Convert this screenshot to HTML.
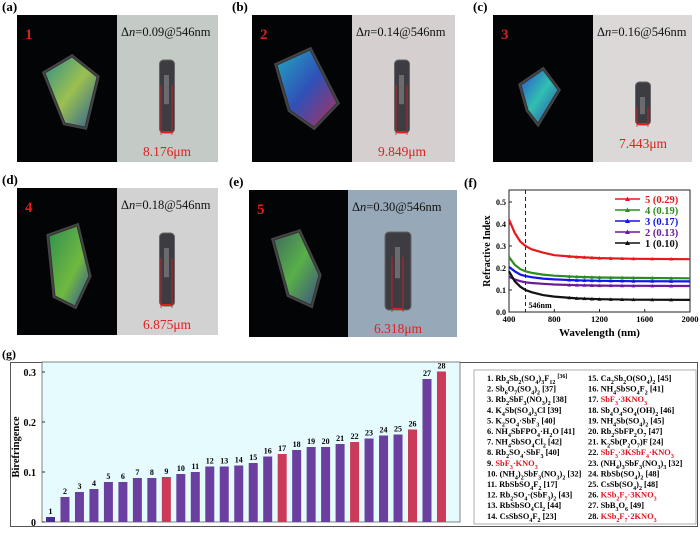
<!DOCTYPE html>
<html><head><meta charset="utf-8"><style>
body{margin:0;background:#fff;}
svg text{font-family:"Liberation Serif",serif;}
</style></head><body>
<svg id="fig" width="700" height="528" viewBox="0 0 700 528" xmlns="http://www.w3.org/2000/svg">
<defs>
<linearGradient id="gA" x1="0" y1="0" x2="1" y2="1"><stop offset="0" stop-color="#2f8f88"/><stop offset="0.5" stop-color="#9cc050"/><stop offset="1" stop-color="#2b5f98"/></linearGradient>
<linearGradient id="gB" x1="0" y1="0" x2="1" y2="1"><stop offset="0" stop-color="#20a8c0"/><stop offset="0.5" stop-color="#3050b8"/><stop offset="1" stop-color="#b0305a"/></linearGradient>
<linearGradient id="gC" x1="0" y1="0" x2="1" y2="1"><stop offset="0" stop-color="#2b50d0"/><stop offset="0.5" stop-color="#30c0b0"/><stop offset="1" stop-color="#3040b0"/></linearGradient>
<linearGradient id="gD" x1="0" y1="0" x2="1" y2="1"><stop offset="0" stop-color="#309050"/><stop offset="0.6" stop-color="#70b840"/><stop offset="1" stop-color="#3050a0"/></linearGradient>
<linearGradient id="gE" x1="0" y1="0" x2="1" y2="1"><stop offset="0" stop-color="#406a60"/><stop offset="0.5" stop-color="#58b048"/><stop offset="1" stop-color="#405080"/></linearGradient>
</defs>
<g id="photos"></g>
<g id="panelF"></g>
<g id="panelG"></g>
</svg>
<script>
const NS="http://www.w3.org/2000/svg";
function mk(tag,attrs,parent,txt){const e=document.createElementNS(NS,tag);for(const k in attrs)e.setAttribute(k,attrs[k]);if(txt!==undefined)e.textContent=txt;parent.appendChild(e);return e;}

/* ---------- photo panels ---------- */
const panelLabels=["(a)","(b)","(c)","(d)","(e)"];
const crystalNums=["1","2","3","4","5"];
const deltaN=["0.09","0.14","0.16","0.18","0.30"];
const widths=["8.176μm","9.849μm","7.443μm","6.875μm","6.318μm"];
const px=[17,252,493,17,249], py=[15,15,15,188,190];
const pw=[201,203,199,201,208], ph=[147,147,147,147,147];
const rightBg=["#c4cbc6","#d5cfd0","#dcd8d8","#d2d2d2","#97a9b9"];
const grads=["gA","gB","gC","gD","gE"];
const blobs=[
 "M28,58 L55,42 L80,62 L68,112 L48,108 Z",
 "M25,50 L58,35 L85,88 L62,112 L38,95 Z",
 "M28,70 L50,55 L65,75 L45,108 L35,95 Z",
 "M32,48 L60,38 L72,88 L58,118 L38,108 Z",
 "M25,50 L50,42 L70,85 L62,115 L40,105 Z"];
const photos=document.getElementById('photos');
for(let i=0;i<5;i++){
  const split=i===4?99:100;
  const g=mk('g',{transform:`translate(${px[i]},${py[i]})`},photos);
  
  
  const lab=mk('text',{x:px[i]<100?-15:-20,y:-4,'font-size':13,'font-weight':'bold'},g,panelLabels[i]);
  
  
  mk('rect',{x:0,y:0,width:split,height:ph[i],fill:'#030405'},g);
  mk('rect',{x:split,y:0,width:pw[i]-split,height:ph[i],fill:rightBg[i]},g);
  mk('path',{d:blobs[i],fill:'#555a60',stroke:'#707070',"stroke-width":5,opacity:0.6},g);
  const b=mk('path',{d:blobs[i],fill:'url(#'+grads[i]+')',stroke:'#333',"stroke-width":1},g);
  
  
  const n=mk('text',{x:8,y:24,'font-size':15,'font-weight':'bold',fill:'#d82020'},g,crystalNums[i]);
  
  
  const dn=mk('text',{x:split+4,y:21,'font-size':12.5,fill:'#111'},g);
  
  
  dn.innerHTML='Δ<tspan font-style="italic">n</tspan>='+deltaN[i]+'@546nm';
  const cx=split+50;
  const top=i===2?67:(i===4?42:45), bot=i===2?110:(i===4?120:118);
  const cw=i===4?26:15;
  const cr=mk('rect',{x:cx-cw/2,y:top,width:cw,height:bot-top,rx:4,fill:'#3c3c42',stroke:'#666'},g);
  
  
  mk('rect',{x:cx-3,y:top+15,width:5,height:(bot-top)*0.4,fill:'#8a8a8a',opacity:0.6},g);
  mk('line',{x1:cx-6,y1:top+25,x2:cx-6,y2:bot+2,stroke:'#e02020','stroke-width':0.8},g);
  mk('line',{x1:cx+5,y1:top+25,x2:cx+5,y2:bot+2,stroke:'#e02020','stroke-width':0.8},g);
  mk('line',{x1:cx-5,y1:bot-1,x2:cx+4,y2:bot-1,stroke:'#e02020','stroke-width':2},g);
  const w=mk('text',{x:cx,y:bot+23,'font-size':13.5,fill:'#e02020','text-anchor':'middle'},g,widths[i]);
  
  
}

/* ---------- panel f: refractive index ---------- */
const wavelengths=[400,450,500,546,600,700,800,1000,1200,1500,2000];
const s5=[0.42,0.36,0.32,0.30,0.285,0.27,0.258,0.25,0.245,0.242,0.24];
const s4=[0.25,0.215,0.195,0.185,0.178,0.17,0.165,0.16,0.157,0.155,0.153];
const s3=[0.205,0.185,0.17,0.163,0.158,0.152,0.148,0.144,0.142,0.14,0.139];
const s2=[0.16,0.148,0.14,0.135,0.132,0.128,0.125,0.122,0.12,0.119,0.118];
const s1=[0.185,0.14,0.115,0.10,0.09,0.077,0.07,0.062,0.058,0.056,0.055];
const fSeries=[s5,s4,s3,s2,s1];
const fLabels=["5 (0.29)","4 (0.19)","3 (0.17)","2 (0.13)","1 (0.10)"];
const fColors=["#e8191c","#2e8b1f","#1414f0","#6a1a9a","#111111"];
const fXTicks=[400,800,1200,1600,2000];
const fYTicks=[0.0,0.1,0.2,0.3,0.4,0.5];
const F=document.getElementById('panelF');
const fx0=509,fx1=690,fy0=312,fyTop=190;
const fX=v=>fx0+(v-400)/1600*(fx1-fx0);
const fY=v=>fy0-v*220;
const fl=mk('text',{x:464,y:187,'font-size':13,'font-weight':'bold'},F,'(f)');


const fr=mk('rect',{x:fx0,y:fyTop,width:fx1-fx0,height:fy0-fyTop,fill:'#fff',stroke:'#222','stroke-width':1},F);


fXTicks.forEach(t=>{mk('line',{x1:fX(t),y1:fy0,x2:fX(t),y2:fy0-3,stroke:'#222'},F);
  const tt=mk('text',{x:fX(t),y:fy0+10,'font-size':8.5,'font-weight':'bold','text-anchor':'middle'},F,t);
  
  });
fYTicks.forEach(t=>{mk('line',{x1:fx0,y1:fY(t),x2:fx0+3,y2:fY(t),stroke:'#222'},F);
  const tt=mk('text',{x:fx0-3,y:fY(t)+3,'font-size':8,'font-weight':'bold','text-anchor':'end'},F,t.toFixed(1));
  
  });
const fxt=mk('text',{x:(fx0+fx1)/2,y:fy0+24,'font-size':11,'font-weight':'bold','text-anchor':'middle'},F,'Wavelength (nm)');


const fyt=mk('text',{x:0,y:0,'font-size':10,'font-weight':'bold','text-anchor':'middle',transform:`translate(490,${(fy0+fyTop)/2}) rotate(-90)`},F,'Refractive Index');


const dash=mk('line',{x1:fX(546),y1:fyTop,x2:fX(546),y2:fy0,stroke:'#222','stroke-dasharray':'4,3'},F);


const dl=mk('text',{x:fX(546)+3,y:fy0-4,'font-size':8,'font-weight':'bold'},F,'546nm');


fSeries.forEach((s,k)=>{
  let d='';
  s.forEach((v,j)=>{d+=(j?'L':'M')+fX(wavelengths[j]).toFixed(1)+','+fY(v).toFixed(1);});
  const p=mk('path',{d:d,fill:'none',stroke:fColors[k],'stroke-width':2.2},F);
  
  
  for(let j=0;j<s.length-1;j++){for(let m=0;m<3;m++){
    const w=wavelengths[j]+(wavelengths[j+1]-wavelengths[j])*m/3, v=s[j]+(s[j+1]-s[j])*m/3;
    if(w<900)continue;
    const X=fX(w),Y=fY(v);
    mk('path',{d:`M${X-2},${Y+1.5}L${X},${Y-2}L${X+2},${Y+1.5}Z`,fill:fColors[k]},F);}}
  const ly=199+k*11;
  mk('line',{x1:615,y1:ly,x2:640,y2:ly,stroke:fColors[k],'stroke-width':1.5},F);
  mk('path',{d:`M625,${ly+2}L627.5,${ly-2.5}L630,${ly+2}Z`,fill:fColors[k]},F);
  const lt=mk('text',{x:645,y:ly+4,'font-size':10.5,'font-weight':'bold',fill:fColors[k]},F,fLabels[k]);
  
  
});

/* ---------- panel g: birefringence bars ---------- */
const gCats=[1,2,3,4,5,6,7,8,9,10,11,12,13,14,15,16,17,18,19,20,21,22,23,24,25,26,27,28];
const gVals=[0.01,0.05,0.06,0.066,0.08,0.08,0.088,0.088,0.09,0.096,0.10,0.111,0.111,0.113,0.118,0.131,0.136,0.144,0.15,0.15,0.156,0.16,0.167,0.173,0.175,0.185,0.286,0.301];
const gRed=[9,17,22,26,28];
const gYTicks=[0,0.1,0.2,0.3];
const gLegend1=["1. Rb<tspan baseline-shift='sub' font-size='6'>4</tspan>Sb<tspan baseline-shift='sub' font-size='6'>2</tspan>(SO<tspan baseline-shift='sub' font-size='6'>4</tspan>)<tspan baseline-shift='sub' font-size='6'>3</tspan>F<tspan baseline-shift='sub' font-size='6'>12</tspan> <tspan baseline-shift='super' font-size='6'>[36]</tspan>","2. Sb<tspan baseline-shift='sub' font-size='6'>6</tspan>O<tspan baseline-shift='sub' font-size='6'>7</tspan>(SO<tspan baseline-shift='sub' font-size='6'>4</tspan>)<tspan baseline-shift='sub' font-size='6'>2</tspan> [37]","3. Rb<tspan baseline-shift='sub' font-size='6'>2</tspan>SbF<tspan baseline-shift='sub' font-size='6'>3</tspan>(NO<tspan baseline-shift='sub' font-size='6'>3</tspan>)<tspan baseline-shift='sub' font-size='6'>2</tspan> [38]","4. K<tspan baseline-shift='sub' font-size='6'>4</tspan>Sb(SO<tspan baseline-shift='sub' font-size='6'>4</tspan>)<tspan baseline-shift='sub' font-size='6'>3</tspan>Cl [39]","5. K<tspan baseline-shift='sub' font-size='6'>2</tspan>SO<tspan baseline-shift='sub' font-size='6'>4</tspan>·SbF<tspan baseline-shift='sub' font-size='6'>3</tspan> [40]","6. NH<tspan baseline-shift='sub' font-size='6'>4</tspan>SbFPO<tspan baseline-shift='sub' font-size='6'>4</tspan>·H<tspan baseline-shift='sub' font-size='6'>2</tspan>O [41]","7. NH<tspan baseline-shift='sub' font-size='6'>4</tspan>SbSO<tspan baseline-shift='sub' font-size='6'>4</tspan>Cl<tspan baseline-shift='sub' font-size='6'>2</tspan> [42]","8. Rb<tspan baseline-shift='sub' font-size='6'>2</tspan>SO<tspan baseline-shift='sub' font-size='6'>4</tspan>·SbF<tspan baseline-shift='sub' font-size='6'>3</tspan> [40]","9. <tspan fill='#e0141e'>SbF<tspan baseline-shift='sub' font-size='6'>3</tspan>·KNO<tspan baseline-shift='sub' font-size='6'>3</tspan></tspan>","10. (NH<tspan baseline-shift='sub' font-size='6'>4</tspan>)<tspan baseline-shift='sub' font-size='6'>2</tspan>SbF<tspan baseline-shift='sub' font-size='6'>3</tspan>(NO<tspan baseline-shift='sub' font-size='6'>3</tspan>)<tspan baseline-shift='sub' font-size='6'>2</tspan> [32]","11. RbSbSO<tspan baseline-shift='sub' font-size='6'>4</tspan>F<tspan baseline-shift='sub' font-size='6'>2</tspan> [17]","12. Rb<tspan baseline-shift='sub' font-size='6'>2</tspan>SO<tspan baseline-shift='sub' font-size='6'>4</tspan>·(SbF<tspan baseline-shift='sub' font-size='6'>3</tspan>)<tspan baseline-shift='sub' font-size='6'>2</tspan> [43]","13. RbSbSO<tspan baseline-shift='sub' font-size='6'>4</tspan>Cl<tspan baseline-shift='sub' font-size='6'>2</tspan> [44]","14. CsSbSO<tspan baseline-shift='sub' font-size='6'>4</tspan>F<tspan baseline-shift='sub' font-size='6'>2</tspan> [23]"];
const gLegend2=["15. Ca<tspan baseline-shift='sub' font-size='6'>2</tspan>Sb<tspan baseline-shift='sub' font-size='6'>2</tspan>O(SO<tspan baseline-shift='sub' font-size='6'>4</tspan>)<tspan baseline-shift='sub' font-size='6'>2</tspan> [45]","16. NH<tspan baseline-shift='sub' font-size='6'>4</tspan>SbSO<tspan baseline-shift='sub' font-size='6'>4</tspan>F<tspan baseline-shift='sub' font-size='6'>2</tspan> [41]","17. <tspan fill='#e0141e'>SbF<tspan baseline-shift='sub' font-size='6'>3</tspan>·3KNO<tspan baseline-shift='sub' font-size='6'>3</tspan></tspan>","18. Sb<tspan baseline-shift='sub' font-size='6'>4</tspan>O<tspan baseline-shift='sub' font-size='6'>4</tspan>SO<tspan baseline-shift='sub' font-size='6'>4</tspan>(OH)<tspan baseline-shift='sub' font-size='6'>2</tspan> [46]","19. NH<tspan baseline-shift='sub' font-size='6'>4</tspan>Sb(SO<tspan baseline-shift='sub' font-size='6'>4</tspan>)<tspan baseline-shift='sub' font-size='6'>2</tspan> [45]","20. Rb<tspan baseline-shift='sub' font-size='6'>2</tspan>SbFP<tspan baseline-shift='sub' font-size='6'>2</tspan>O<tspan baseline-shift='sub' font-size='6'>7</tspan> [47]","21. K<tspan baseline-shift='sub' font-size='6'>2</tspan>Sb(P<tspan baseline-shift='sub' font-size='6'>2</tspan>O<tspan baseline-shift='sub' font-size='6'>7</tspan>)F [24]","22. <tspan fill='#e0141e'>SbF<tspan baseline-shift='sub' font-size='6'>3</tspan>·3KSbF<tspan baseline-shift='sub' font-size='6'>4</tspan>·KNO<tspan baseline-shift='sub' font-size='6'>3</tspan></tspan>","23. (NH<tspan baseline-shift='sub' font-size='6'>4</tspan>)<tspan baseline-shift='sub' font-size='6'>3</tspan>SbF<tspan baseline-shift='sub' font-size='6'>3</tspan>(NO<tspan baseline-shift='sub' font-size='6'>3</tspan>)<tspan baseline-shift='sub' font-size='6'>3</tspan> [32]","24. RbSb(SO<tspan baseline-shift='sub' font-size='6'>4</tspan>)<tspan baseline-shift='sub' font-size='6'>2</tspan> [48]","25. CsSb(SO<tspan baseline-shift='sub' font-size='6'>4</tspan>)<tspan baseline-shift='sub' font-size='6'>2</tspan> [48]","26. <tspan fill='#e0141e'>KSb<tspan baseline-shift='sub' font-size='6'>2</tspan>F<tspan baseline-shift='sub' font-size='6'>7</tspan>·3KNO<tspan baseline-shift='sub' font-size='6'>3</tspan></tspan>","27. SbB<tspan baseline-shift='sub' font-size='6'>3</tspan>O<tspan baseline-shift='sub' font-size='6'>6</tspan> [49]","28. <tspan fill='#e0141e'>KSb<tspan baseline-shift='sub' font-size='6'>2</tspan>F<tspan baseline-shift='sub' font-size='6'>7</tspan>·2KNO<tspan baseline-shift='sub' font-size='6'>3</tspan></tspan>"];
const G=document.getElementById('panelG');
const gx0=42,gx1=460,gy0=522,gyTop=362;
const gY=v=>gy0-v*500;
const gX=i=>50.5+i*14.48;
const gl=mk('text',{x:2,y:358,'font-size':12,'font-weight':'bold'},G,'(g)');


const frame=mk('rect',{x:10.5,y:362.5,width:687,height:164,fill:'#fff',stroke:'#555','stroke-width':1},G);


const ga=mk('rect',{x:gx0,y:gyTop,width:gx1-gx0,height:gy0-gyTop,fill:'#e6fbfd',stroke:'#666','stroke-width':0.8},G);


gYTicks.forEach(t=>{mk('line',{x1:gx0,y1:gY(t),x2:gx0+3,y2:gY(t),stroke:'#333'},G);
  const tt=mk('text',{x:gx0-6,y:gY(t)+4,'font-size':10,'font-weight':'bold','text-anchor':'end'},G,t===0?'0':t.toFixed(1));
  
  });
const gyt=mk('text',{x:0,y:0,'font-size':10.5,'font-weight':'bold','text-anchor':'middle',transform:`translate(19,${gY(0.15)}) rotate(-90)`},G,'Birefringence');


gCats.forEach((c,i)=>{
  const v=gVals[i];
  const col=gRed.includes(c)?'#cc3a5a':(i===0?'#4a2a9a':'#6b3fa0');
  const r=mk('rect',{x:gX(i)-4.5,y:gY(v),width:9,height:gy0-gY(v),fill:col},G);
  
  
  const t=mk('text',{x:gX(i),y:gY(v)-3,'font-size':8,'font-weight':'bold','text-anchor':'middle'},G,c);
  
  
});
const lbox=mk('rect',{x:474,y:370,width:222,height:154,fill:'#fff',stroke:'#999','stroke-width':0.8},G);


function legCol(arr,x){arr.forEach((h,i)=>{const t=mk('text',{x:x,y:381+i*10.6,'font-size':8.4,'font-weight':'bold'},G);t.innerHTML=h;
  
  });}
legCol(gLegend1,487);legCol(gLegend2,588);
</script>
</body></html>
